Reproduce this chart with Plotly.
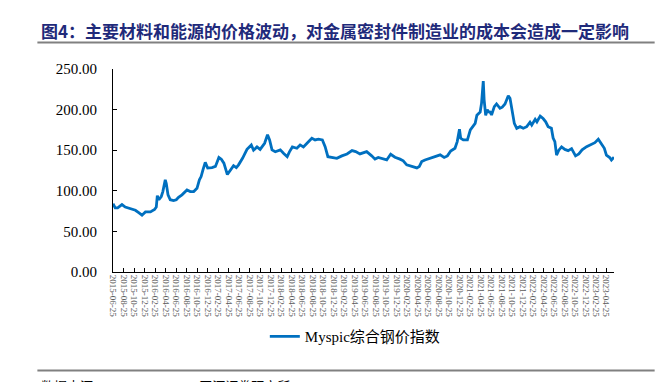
import plotly.graph_objects as go

# ---- data ----
dates = [
    "2015-06-25", "2015-07-08", "2015-07-22", "2015-08-16", "2015-09-04", "2015-10-03",
    "2015-11-02", "2015-11-21", "2015-12-10", "2015-12-30", "2016-01-28", "2016-02-21",
    "2016-03-02", "2016-03-08", "2016-03-17", "2016-03-31", "2016-04-09", "2016-04-23",
    "2016-04-29", "2016-05-09", "2016-05-22", "2016-06-10", "2016-06-26", "2016-07-09",
    "2016-07-29", "2016-08-27", "2016-09-15", "2016-10-05", "2016-10-24", "2016-11-07",
    "2016-11-17", "2016-11-28", "2016-12-11", "2016-12-25", "2017-01-19", "2017-02-08",
    "2017-02-28", "2017-03-14", "2017-03-29", "2017-04-18", "2017-05-05", "2017-05-24",
    "2017-06-09", "2017-06-22", "2017-07-15", "2017-08-10", "2017-09-04", "2017-09-17",
    "2017-10-07", "2017-10-25", "2017-11-20", "2017-12-07", "2017-12-19", "2018-01-02",
    "2018-01-21", "2018-02-19", "2018-03-11", "2018-03-31", "2018-04-13", "2018-04-30",
    "2018-05-26", "2018-06-14", "2018-07-03", "2018-08-01", "2018-08-21", "2018-09-09",
    "2018-09-28", "2018-10-21", "2018-11-06", "2018-11-22", "2018-12-15", "2019-01-13",
    "2019-02-11", "2019-03-13", "2019-04-11", "2019-05-02", "2019-05-27", "2019-06-21",
    "2019-07-05", "2019-08-03", "2019-08-22", "2019-09-10", "2019-10-09", "2019-10-29",
    "2019-11-21", "2019-12-16", "2020-01-14", "2020-02-02", "2020-02-22", "2020-03-13",
    "2020-04-01", "2020-04-21", "2020-05-05", "2020-05-19", "2020-06-07", "2020-07-07",
    "2020-08-04", "2020-09-03", "2020-09-26", "2020-10-15", "2020-11-03", "2020-11-28",
    "2020-12-11", "2020-12-24", "2020-12-31", "2021-01-15", "2021-02-08", "2021-02-25",
    "2021-03-12", "2021-03-25", "2021-04-04", "2021-04-23", "2021-05-01", "2021-05-11",
    "2021-05-16", "2021-05-25", "2021-06-03", "2021-06-09", "2021-06-19", "2021-06-28",
    "2021-07-14", "2021-07-27", "2021-08-16", "2021-08-29", "2021-09-14", "2021-10-03",
    "2021-10-13", "2021-10-26", "2021-11-07", "2021-11-21", "2021-12-10", "2021-12-29",
    "2022-01-18", "2022-02-06", "2022-02-16", "2022-03-08", "2022-03-18", "2022-04-06",
    "2022-04-23", "2022-05-08", "2022-05-22", "2022-06-10", "2022-06-20", "2022-06-30",
    "2022-07-10", "2022-07-23", "2022-08-08", "2022-08-27", "2022-09-15", "2022-10-05",
    "2022-10-28", "2022-11-16", "2022-12-05", "2022-12-31", "2023-01-29", "2023-02-17",
    "2023-03-09", "2023-03-29", "2023-04-13", "2023-04-25", "2023-05-14", "2023-05-24",
    "2023-06-08",
]
steel_index = [
    84, 79, 79, 83, 80, 78,
    76, 73, 70, 74, 74, 77,
    80, 94, 89, 93, 99, 113.5,
    109, 95, 89, 88, 89, 92,
    95, 101, 99, 99, 103, 113.5,
    117.5, 126, 135, 128, 128.6, 130,
    141, 139, 134, 120, 126, 131,
    128.6, 132, 140, 151, 156.5, 150,
    154, 151, 158.6, 169, 162.6, 150.4,
    148, 150.4, 146, 142, 148, 154,
    152.4, 156.5, 154, 160.6, 164.7, 162.6,
    163.5, 162.6, 154.4, 142, 141, 140,
    143, 145.4, 149.5, 148.3, 145.4, 147,
    148.3, 143, 139, 141, 139.7, 138,
    145, 141.4, 139, 137, 132, 130.7,
    128.6, 128.2, 129.8, 136, 138, 139.7,
    142, 144.2, 141, 143, 149, 152.4,
    160.6, 175.8, 164.7, 162.6, 162.6, 175,
    179, 183, 193, 197, 208, 235,
    212, 193, 200, 197.4, 197, 193.4,
    203.6, 207, 201.6, 203, 207, 217,
    214, 199.5, 183, 177, 179, 177,
    179, 184.4, 181, 188, 185, 192,
    189, 185, 179, 177, 165, 160.6,
    144, 150, 154, 151, 149.5, 152,
    143, 145.4, 150.4, 154.4, 157.7, 159.3,
    163.5, 156.5, 152.4, 144, 141, 138,
    141.4,
]
series_name = "Myspic综合钢价指数"

tick_labels = [
    "2015-06-25", "2015-08-25", "2015-10-25", "2015-12-25",
    "2016-02-25", "2016-04-25", "2016-06-25", "2016-08-25", "2016-10-25", "2016-12-25",
    "2017-02-25", "2017-04-25", "2017-06-25", "2017-08-25", "2017-10-25", "2017-12-25",
    "2018-02-25", "2018-04-25", "2018-06-25", "2018-08-25", "2018-10-25", "2018-12-25",
    "2019-02-25", "2019-04-25", "2019-06-25", "2019-08-25", "2019-10-25", "2019-12-25",
    "2020-02-25", "2020-04-25", "2020-06-25", "2020-08-25", "2020-10-25", "2020-12-25",
    "2021-02-25", "2021-04-25", "2021-06-25", "2021-08-25", "2021-10-25", "2021-12-25",
    "2022-02-25", "2022-04-25", "2022-06-25", "2022-08-25", "2022-10-25", "2022-12-25",
    "2023-02-25", "2023-04-25",
]
y_ticks = [0, 50, 100, 150, 200, 250]

title_text = "图4：主要材料和能源的价格波动，对金属密封件制造业的成本会造成一定影响"
source_text = "数据来源：Myspic、Wind、开源证券研究所"

# ---- layout geometry ----
# The page body adds an 8px offset; positions below are in screen pixels and
# are converted to figure coordinates by subtracting that offset.
OFF = 8
W, H = 666, 382
PLOT_L, PLOT_R, PLOT_T, PLOT_B = 112.7, 614.3, 69, 272.3   # screen px
ML = PLOT_L - OFF
MT = PLOT_T - OFF
MR = W - (PLOT_R - OFF)
MB = H - (PLOT_B - OFF)
PW, PH = W - ML - MR, H - MT - MB


def px_x(x):
    return (x - OFF - ML) / PW


def px_y(y):
    return (H - MB - (y - OFF)) / PH


SERIF = "Liberation Serif, Times New Roman, Noto Sans CJK SC"

fig = go.Figure()
fig.add_trace(go.Scatter(
    x=dates, y=steel_index, mode="lines", name=series_name,
    line=dict(color="#0070C0", width=2.8),
))

fig.update_layout(
    width=W, height=H,
    margin=dict(l=ML, r=MR, t=MT, b=MB, autoexpand=False),
    paper_bgcolor="white", plot_bgcolor="white",
    showlegend=True,
    legend=dict(
        orientation="h", x=px_x(264.7), y=px_y(337), xanchor="left", yanchor="middle",
        font=dict(family=SERIF, size=15, color="#000000"),
        itemwidth=30, bgcolor="rgba(0,0,0,0)",
    ),
    xaxis=dict(
        type="date", range=[dates[0], dates[-1]],
        tickmode="array", tickvals=tick_labels, ticktext=tick_labels,
        tickangle=90, ticks="inside", ticklen=4, tickcolor="#000000",
        showline=True, linecolor="#000000", linewidth=1,
        showgrid=False, zeroline=False, automargin=False,
        tickfont=dict(family=SERIF, size=9, color="#595959"),
    ),
    yaxis=dict(
        range=[0, 250], tickmode="array", tickvals=y_ticks,
        tickformat=".2f", ticks="inside", ticklen=4, tickcolor="#000000",
        showline=True, linecolor="#000000", linewidth=1,
        showgrid=False, zeroline=False, automargin=False,
        tickfont=dict(family=SERIF, size=15, color="#000000"),
        ticklabelstandoff=12,
    ),
    shapes=[
        dict(type="line", xref="paper", yref="paper",
             x0=px_x(37), x1=px_x(655), y0=px_y(42.5), y1=px_y(42.5),
             line=dict(color="#808080", width=2)),
        dict(type="line", xref="paper", yref="paper",
             x0=px_x(37), x1=px_x(655), y0=px_y(371), y1=px_y(371),
             line=dict(color="#808080", width=2)),
    ],
    annotations=[
        dict(text="<b>" + title_text + "</b>", xref="paper", yref="paper",
             x=px_x(39), y=px_y(30.5), xanchor="left", yanchor="middle",
             showarrow=False,
             font=dict(family="Noto Sans CJK SC", size=17, color="#1F2A7A")),
        dict(text=source_text, xref="paper", yref="paper",
             x=px_x(39), y=px_y(377.5), xanchor="left", yanchor="top",
             showarrow=False,
             font=dict(family=SERIF, size=13, color="#000000")),
    ],
)

fig.write_html("out.html")
